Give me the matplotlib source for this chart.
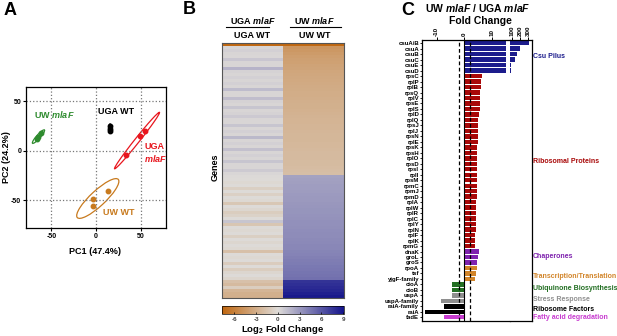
import numpy as np
import matplotlib.pyplot as plt
import matplotlib.transforms as mtransforms
from matplotlib.patches import Ellipse
from matplotlib.colors import LinearSegmentedColormap, Normalize
from matplotlib.lines import Line2D

plt.rcParams['font.family'] = 'Liberation Sans'
plt.rcParams['font.weight'] = 'bold'
plt.rcParams['mathtext.fontset'] = 'custom'
plt.rcParams['mathtext.rm'] = 'Liberation Sans:bold'
plt.rcParams['mathtext.it'] = 'Liberation Sans:italic:bold'
plt.rcParams['mathtext.bf'] = 'Liberation Sans:bold'
plt.rcParams['axes.unicode_minus'] = False

# ---- panel A: PCA scores (3 replicates per strain) ----
uga_wt_pc1 = [15.6, 16.0, 15.8]
uga_wt_pc2 = [25.5, 22.5, 20.0]
uga_mlaf_pc1 = [33.7, 49.4, 55.0]
uga_mlaf_pc2 = [-4.0, 15.0, 20.5]
uw_wt_pc1 = [-3.7, -3.7, 13.0]
uw_wt_pc2 = [-48.8, -56.0, -40.0]
uw_mlaf_pc1 = [-66.5, -64.5, -62.0]
uw_mlaf_pc2 = [12.5, 14.5, 18.0]
# confidence ellipses: centre x, centre y, length, width, angle
uga_wt_ell = [15.8, 22.8, 9, 3.5, 90]
uga_mlaf_ell = [46.0, 10.5, 76, 5, 48.5]
uw_wt_ell = [2.0, -48.0, 60, 16, 39.6]
uw_mlaf_ell = [-64.5, 14.5, 19, 4, 45]

# ---- panel B: log2 fold change per gene ----
uga_ratio = [-7.6, 0.3, 0.5, 0.3, 0.2, 0.9, 0.3, 0.3, 1.8, 0.4,
             0.3, 0.5, 0.3, 0.5, 0.3, 1.4, 0.3, 0.3, 1.3, 0.4,
             0.3, 1.0, 0.3, 0.4, 0.8, 0.3, 0.3, 1.0, 0.3, 0.5,
             0.3, 1.5, 0.3, 0.5, 0.3, 1.2, 0.3, 0.5, 0.3, 1.0,
             0.3, 0.3, 0.7, 0.2, 0.1, 0.0, -0.2, 0.0, -0.8, 0.0,
             -0.7, 0.0, -0.2, -1.3, 0.0, -0.3, -0.9, -0.6, 0.0, 1.0,
             -1.4, 0.0, -0.2, 0.0, -0.8, 0.0, -0.3, 0.0, -0.2, -1.8,
             0.0, -0.2, 0.0, -1.0, 0.0, -0.9, -0.3, 0.0, -0.4, -1.8,
             -2.2, -0.9, -2.5, -2.8, -2.9]
uw_ratio = [-7.6,
            -4.6, -4.4, -4.2, -4.0, -3.9, -3.8, -3.7, -3.6, -3.5, -3.4,
            -3.35, -3.3, -3.2, -3.15, -3.1, -3.05, -3.0, -2.95, -2.9, -2.85,
            -2.8, -2.75, -2.7, -2.65, -2.6, -2.55, -2.5, -2.5, -2.45, -2.4,
            -2.4, -2.35, -2.3, -2.3, -2.25, -2.2, -2.2, -2.15, -2.1, -2.1,
            -2.05, -2.0, -1.9,
            2.6, 2.65, 2.7, 2.75, 2.8, 2.85, 2.9, 2.95, 3.0, 3.05,
            3.1, 3.15, 3.2, 3.25, 3.3, 3.35, 3.4, 3.45, 3.5, 3.55,
            3.6, 3.65, 3.7, 3.75, 3.8, 3.9, 4.0, 4.1, 4.2, 4.3,
            4.4, 4.5, 4.6, 4.7, 4.8,
            7.6, 7.8, 8.0, 8.2, 8.5, 8.8]
cbar_ticks = [-6, -3, 0, 3, 6, 9]

# ---- panel C: UW mlaF / UGA mlaF fold change ----
genes = ['csuA/B', 'csuA', 'csuB', 'csuC', 'csuE', 'csuD',
         'rpsC', 'rplP', 'rplB', 'rpsQ', 'rplV', 'rpsE', 'rplS', 'rplD',
         'rplQ', 'rpsJ', 'rplJ', 'rpsN', 'rplE', 'rpsK', 'rpsH', 'rplO',
         'rpsD', 'rpsI', 'rplI', 'rpsM', 'rpmC', 'rpmJ', 'rpmD', 'rplA',
         'rplW', 'rplR', 'rplC', 'rplY', 'rplN', 'rplF', 'rplK', 'rpmG',
         'dnaK', 'groL', 'groS', 'rpoA', 'tsf', 'yjgF-family',
         'cioA', 'cioB', 'uspA', 'uspA-family', 'raiA-family', 'raiA', 'fadE']
fold_change = [304, 200, 168, 144, 92, 91,
               6.3, 5.9, 5.8, 5.6, 5.6, 5.5, 5.5, 5.3,
               4.9, 4.8, 4.8, 4.7, 4.7, 4.6, 4.6, 4.6,
               4.6, 4.5, 4.5, 4.5, 4.4, 4.4, 4.4, 4.3,
               4.3, 4.3, 4.2, 4.1, 4.1, 3.9, 3.9, 3.8,
               5.1, 4.7, 4.4, 4.5, 4.0, 3.8,
               -4.6, -4.6, -4.6, -8.5, -7.4, -14.2, -7.3]
gene_group = [0] * 6 + [1] * 32 + [2] * 3 + [3] * 3 + [4] * 2 + [5] * 2 + [6] * 2 + [7]
group_names = ['Csu Pilus', 'Ribosomal Proteins', 'Chaperones',
               'Transcription/Translation', 'Ubiquinone Biosynthesis',
               'Stress Response', 'Ribosome Factors', 'Fatty acid degradation']
group_colors = ['#1c1c8c', '#a80808', '#7e22ae', '#d2852a', '#236f23',
                '#8f8f8f', '#000000', '#c83cd0']

W, H = 617, 336


def box(x0, y0, x1, y1):
    return [x0 / W, 1 - y1 / H, (x1 - x0) / W, (y1 - y0) / H]


def fx(x):
    return x / W


def fy(y):
    return 1 - y / H


fig = plt.figure(figsize=(W / 100, H / 100), dpi=100)

# ================= A =================
ax = fig.add_axes(box(26, 87, 166, 228))
strains = [(uga_wt_pc1, uga_wt_pc2, uga_wt_ell, 'black'),
           (uga_mlaf_pc1, uga_mlaf_pc2, uga_mlaf_ell, '#e8161e'),
           (uw_wt_pc1, uw_wt_pc2, uw_wt_ell, '#c87a1e'),
           (uw_mlaf_pc1, uw_mlaf_pc2, uw_mlaf_ell, '#2e8b2e')]
for xs, ys, ell, col in strains:
    ax.add_patch(Ellipse((ell[0], ell[1]), ell[2], ell[3], angle=ell[4],
                         fill=False, edgecolor=col, lw=0.9))
    ax.plot(xs, ys, 'o', color=col, ms=3.2, mec=col)
ax.set_xlim(-78.5, 78.5)
ax.set_ylim(-77.8, 64.6)
ax.set_xticks([-50, 0, 50])
ax.set_yticks([-50, 0, 50])
ax.grid(True, ls=':', color='#777777', lw=0.9)
ax.tick_params(labelsize=5, length=2, width=0.8, pad=1.5)
for s in ax.spines.values():
    s.set_linewidth(0.9)
ax.text(-70, 37, 'UW $mlaF$', color='#2e8b2e', fontsize=6.5, va='center')
ax.text(23, 40, 'UGA WT', color='black', fontsize=6.5, va='center', ha='center')
ax.text(54, 5, 'UGA', color='#e8161e', fontsize=6.5, va='center')
ax.text(54, -7.5, '$mlaF$', color='#e8161e', fontsize=6.5, va='center')
ax.text(8, -62, 'UW WT', color='#c87a1e', fontsize=6.5, va='center')
fig.text(fx(95), fy(252), 'PC1 (47.4%)', ha='center', va='center', fontsize=6.5)
fig.text(fx(6.5), fy(157), 'PC2 (24.2%)', ha='center', va='center', fontsize=6.5,
         rotation=90)

# ================= B =================
cmap = LinearSegmentedColormap.from_list(
    'orange_blue', [(0.0, '#c0660e'), (0.4586, '#dedbd8'), (1.0, '#12128a')])
norm = Normalize(vmin=-7.75, vmax=9.15)
ax_b = fig.add_axes(box(221.7, 42.7, 344.3, 297.7))
heat = np.column_stack([uga_ratio, uw_ratio])
im = ax_b.imshow(heat, aspect='auto', cmap=cmap, norm=norm, interpolation='nearest')
ax_b.set_xticks([])
ax_b.set_yticks([])
for s in ax_b.spines.values():
    s.set_color('#555555')
    s.set_linewidth(0.8)
ax_b.annotate('$mlaF$', xy=(-0.51, 0), xytext=(-9.5, 0), textcoords='offset points',
              ha='right', va='center', fontsize=5.5,
              arrowprops=dict(arrowstyle='-|>', lw=0.8, color='black',
                              mutation_scale=5, shrinkA=1, shrinkB=0))
fig.text(fx(215), fy(167), 'Genes', rotation=90, ha='center', va='center', fontsize=6.5)

for cx, top, bot, x0, x1 in [(252.5, 'UGA $mlaF$', 'UGA WT', 226, 269),
                             (314.5, 'UW $mlaF$', 'UW WT', 290, 341)]:
    fig.text(fx(cx), fy(20), top, ha='center', va='center', fontsize=6.5)
    fig.text(fx(cx), fy(35), bot, ha='center', va='center', fontsize=6.5)
    fig.add_artist(Line2D([fx(x0), fx(x1)], [fy(27), fy(27)], color='black', lw=0.8))

cax = fig.add_axes(box(221.7, 306, 344.3, 314))
cb = fig.colorbar(im, cax=cax, orientation='horizontal', ticks=cbar_ticks)
cb.outline.set_linewidth(0.5)
cax.tick_params(labelsize=4.5, length=1.5, width=0.5, direction='in', pad=2,
                labelcolor='#444444')
fig.text(fx(283), fy(330), 'Log$_2$ Fold Change', ha='center', va='center', fontsize=6.8)

# ================= C =================
y = np.arange(len(genes))
colors = [group_colors[g] for g in gene_group]
c1 = fig.add_axes(box(422.3, 40, 510, 320.7))
c2 = fig.add_axes(box(510, 40, 531.7, 320.7))
c1.barh(y, np.minimum(fold_change, 14.8), height=0.8, color=colors)
c2.barh(y, fold_change, height=0.8, color=colors)
for a in (c1, c2):
    a.set_ylim(len(genes) - 0.38, -0.58)
    a.xaxis.tick_top()
    a.tick_params(axis='x', labelsize=4.5, length=2, width=0.7, pad=1,
                  labelrotation=90)
    for s in a.spines.values():
        s.set_linewidth(0.9)
c1.set_xlim(-15.2, 16.4)
c1.set_xticks([-10, 0, 10])
c1.axvline(0, color='black', lw=0.8)
for v in (-2, 2):
    c1.axvline(v, color='black', lw=0.9, ls=(0, (3, 2)))
c1.set_yticks(y)
c1.set_yticklabels(genes, fontsize=4.3)
c1.tick_params(axis='y', length=1.5, width=0.6, pad=0.8)
c1.spines['right'].set_visible(False)
c2.set_xlim(79.5, 341)
c2.set_xticks([100, 200, 300])
c2.set_yticks([])
c2.spines['left'].set_visible(False)

group_rows = [2.5, 21.5, 39, 42.5, 44.7, 46.7, 48.5, 50]
trans = mtransforms.blended_transform_factory(c2.transAxes, c2.transData)
for name, col, row in zip(group_names, group_colors, group_rows):
    c2.text(1.06, row, name, color=col, fontsize=5, va='center', ha='left',
            transform=trans)

fig.text(fx(478), fy(8.5), 'UW $mlaF$ / UGA $mlaF$', ha='center', va='center', fontsize=7.5)
fig.text(fx(480), fy(20.5), 'Fold Change', ha='center', va='center', fontsize=7.5)

# panel letters
fig.text(fx(4), fy(2), 'A', fontsize=13, ha='left', va='top')
fig.text(fx(183), fy(1), 'B', fontsize=13, ha='left', va='top')
fig.text(fx(401), fy(2), 'C', fontsize=13, ha='left', va='top')

fig.savefig('out.png', dpi=100)
